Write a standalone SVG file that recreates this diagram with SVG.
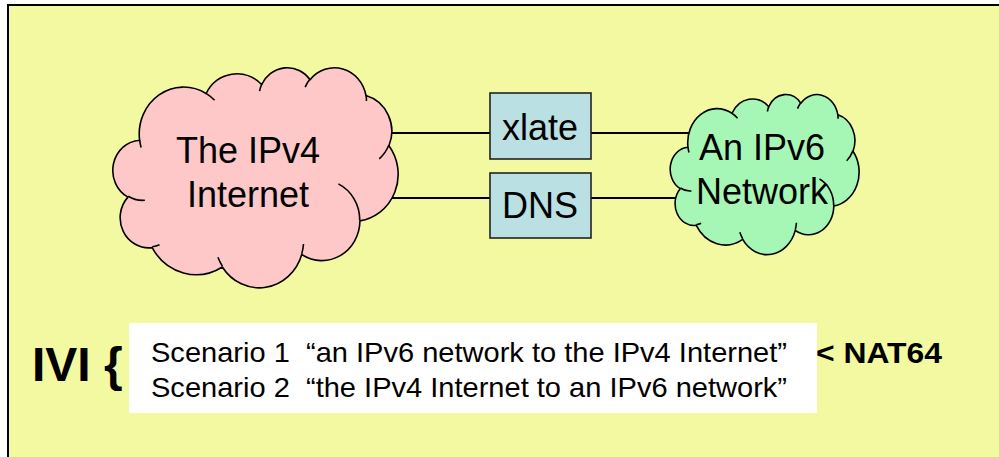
<svg xmlns="http://www.w3.org/2000/svg" xmlns:xlink="http://www.w3.org/1999/xlink" width="999" height="457" viewBox="0 0 999 457">
<style>
.cl{stroke:#000;stroke-width:1.6;stroke-linejoin:round}
.ci{fill:none;stroke:#000;stroke-width:1.6}
.box{fill:#bae0e3;stroke:#222;stroke-width:1.6}
.conn{stroke:#000;stroke-width:1.8;fill:none}
.t{font-family:"Liberation Sans",Arial,sans-serif;fill:#000}
</style>
<defs>
<path id="cloudOutline" vector-effect="non-scaling-stroke" d="M3900,14370 A6753,9190 0 0 1 14007,5204 A5333,7267 0 0 1 22460,3437 A4365,5945 0 0 1 29837,2486 A4857,6595 0 0 1 38321,5582 A5333,7273 0 0 1 41822,15466 A6775,9220 0 0 1 37408,30210 A5785,7867 0 0 1 28559,36820 A6752,9215 0 0 1 16482,39268 A7720,10543 0 0 1 5806,35473 A4360,5918 0 0 1 2115,25551 A4345,5945 0 0 1 3900,14370 Z"/>
<path id="cloudInner" vector-effect="non-scaling-stroke" d="M4693,26177 A4345,5945 0 0 1 2159,25379 M6928,34899 A4360,5918 0 0 1 5819,35281 M16478,39090 A6752,9215 0 0 1 15812,37353 M28827,34751 A6752,9215 0 0 1 28560,36660 M34129,22954 A5785,7867 0 0 1 37381,30090 M41798,15354 A5333,7273 0 0 1 40350,18029 M38324,5426 A4857,6595 0 0 1 38400,6689 M29078,3952 A4857,6595 0 0 1 29820,2339 M22141,4720 A4365,5945 0 0 1 22501,3329 M14000,5192 A6753,9190 0 0 1 15298,6538 M4127,15789 A6753,9190 0 0 1 3900,14370"/>
</defs>
<rect x="8" y="5" width="1000" height="470" fill="#f3f9a0" stroke="#000" stroke-width="2"/>
<g id="connectors">
<path class="conn" d="M385,133 H490"/>
<path class="conn" d="M591,133 H695"/>
<path class="conn" d="M385,198 H490"/>
<path class="conn" d="M591,198 H685"/>
</g>
<g id="ipv4-internet">
<g transform="translate(114,67) scale(0.0065741,0.0050926)">
<use xlink:href="#cloudOutline" class="cl" fill="#ffc8c8"/>
<use xlink:href="#cloudInner" class="ci"/>
</g>
<text class="t" x="248" y="163" font-size="36" text-anchor="middle">The IPv4</text>
<text class="t" x="248" y="207" font-size="36" text-anchor="middle">Internet</text>
</g>
<g id="xlate">
<rect class="box" x="490" y="93" width="101" height="66"/>
<text class="t" x="540" y="140" font-size="36" text-anchor="middle">xlate</text>
</g>
<g id="dns">
<rect class="box" x="490" y="173" width="101" height="65"/>
<text class="t" x="540" y="218" font-size="36" text-anchor="middle">DNS</text>
</g>
<g id="ipv6-network">
<g transform="translate(671,94) scale(0.0043519,0.0037037)">
<use xlink:href="#cloudOutline" class="cl" fill="#a6f7b5"/>
<use xlink:href="#cloudInner" class="ci"/>
</g>
<text class="t" x="762" y="160" font-size="36" text-anchor="middle">An IPv6</text>
<text class="t" x="762" y="204" font-size="36" text-anchor="middle">Network</text>
</g>
<g id="ivi-label">
<text class="t" x="32" y="381" font-size="48" font-weight="bold">IVI {</text>
</g>
<g id="scenarios">
<rect x="129" y="323" width="688" height="90" fill="#fff"/>
<text class="t" x="151" y="362" font-size="28" textLength="636" lengthAdjust="spacingAndGlyphs" xml:space="preserve">Scenario 1  “an IPv6 network to the IPv4 Internet”</text>
<text class="t" x="151" y="397" font-size="28" textLength="636" lengthAdjust="spacingAndGlyphs" xml:space="preserve">Scenario 2  “the IPv4 Internet to an IPv6 network”</text>
</g>
<g id="nat64-label">
<text class="t" x="816" y="363" font-size="29" font-weight="bold" textLength="126" lengthAdjust="spacingAndGlyphs">&lt; NAT64</text>
</g>
</svg>
